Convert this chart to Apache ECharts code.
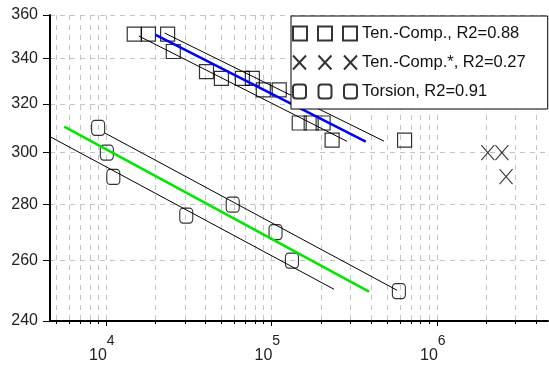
<!DOCTYPE html>
<html>
<head>
<meta charset="utf-8">
<script src="https://cdn.jsdelivr.net/npm/echarts@6/dist/echarts.min.js"></script>
<style>
  html, body { margin: 0; padding: 0; background: #fff; }
  #chart { width: 549px; height: 369px; }
</style>
</head>
<body>
<div id="chart"></div>
<script>
// cycles N (x, log) and stress S (y, log)
const tcN = [14850, 18100, 23630, 25570, 40590, 49970, 66880, 76830, 89480, 111700, 147500, 174200, 205700, 233100, 638800];
const tcS = [351, 351, 351, 343, 334, 331, 331, 331, 326, 326, 312, 312, 312, 305, 305];
const tcStarN = [2034000, 2474000, 2622000];
const tcStarS = [300, 300, 290.6];
const torN = [8987, 10140, 11100, 30630, 58470, 106100, 133300, 590300];
const torS = [310, 300, 290.5, 276, 280, 270, 260, 249.7];

// regression lines (two end points each)
const tcFitN = [20010, 372100], tcFitS = [350.6, 304.4];
const tcUpN = [22670, 479400], tcUpS = [351.5, 304.6];
const tcLoN = [15830, 287000], tcLoS = [350.1, 304.5];
const torFitN = [5608, 389500], torFitS = [310.5, 249.5];
const torUpN = [9862, 574100], torUpS = [307.9, 250.0];
const torLoN = [4600, 239600], torLoS = [306.4, 250.3];

const names = ['Ten.-Comp., R2=0.88', 'Ten.-Comp.*, R2=0.27', 'Torsion, R2=0.91'];
const yTicks = [240, 260, 280, 300, 320, 340, 360];
const xLabels = [1e4, 1e5, 1e6];
const xTicks = [5e3, 6e3, 7e3, 8e3, 9e3,
  1e4, 2e4, 3e4, 4e4, 5e4, 6e4, 7e4, 8e4, 9e4,
  1e5, 2e5, 3e5, 4e5, 5e5, 6e5, 7e5, 8e5, 9e5,
  1e6, 2e6, 3e6, 4e6];

const zip = (a, b) => a.map((v, i) => [v, b[i]]);

// legend icons: three markers side by side
function roundRect(x) {
  return 'M' + (x + 3) + ' 0H' + (x + 10) + 'A3 3 0 0 1 ' + (x + 13) + ' 3V11A3 3 0 0 1 ' + (x + 10) + ' 14H' + (x + 3) +
    'A3 3 0 0 1 ' + x + ' 11V3A3 3 0 0 1 ' + (x + 3) + ' 0Z';
}
const iconSquares = 'path://M0 0H14V14H0ZM25 0H39V14H25ZM50 0H64V14H50Z';
const iconCrosses = 'path://M0 0L13 14M13 0L0 14M25.5 0L38.5 14M38.5 0L25.5 14M51 0L64 14M64 0L51 14';
const iconCircles = 'path://' + roundRect(0) + roundRect(25.5) + roundRect(51);

const chart = echarts.init(document.getElementById('chart'), null, { renderer: 'canvas' });

const gridLine = { show: true, lineStyle: { color: '#c4c4c4', type: [5, 5], width: 1 } };
const hollow = { color: 'rgba(0,0,0,0)', borderColor: '#000', borderWidth: 1.2 };
const thin = { color: '#000', width: 1 };

function line(n, s, style, z) {
  return {
    type: 'line', data: zip(n, s), showSymbol: false, symbol: 'none',
    lineStyle: style, silent: true, z: z, clip: true
  };
}

const option = {
  animation: false,
  grid: { left: 50, right: 1, top: 15, bottom: 48 },
  xAxis: [{
    type: 'log', min: 4600, max: 4.7e6,
    axisLine: { show: true, lineStyle: { color: '#000', width: 2 } },
    axisTick: { show: true, customValues: xTicks, length: 3, lineStyle: { color: '#000' } },
    splitLine: gridLine,
    axisLabel: {
      customValues: xLabels, margin: 13, color: '#222',
      fontFamily: 'Liberation Sans',
      formatter: v => '{b|10}{s|' + Math.round(Math.log10(v)) + '}',
      rich: {
        b: { fontSize: 16, fontFamily: 'Liberation Sans', color: '#222', lineHeight: 30, verticalAlign: 'bottom' },
        s: { fontSize: 14, fontFamily: 'Liberation Sans', color: '#222', lineHeight: 14, verticalAlign: 'top', padding: [0, 8, 0, 0] }
      }
    }
  }, {
    type: 'log', min: 4600, max: 4.7e6, position: 'bottom',
    axisLine: { show: false },
    axisTick: { show: true, customValues: xLabels, length: 5, lineStyle: { color: '#000' } },
    axisLabel: { show: false },
    splitLine: { show: false }
  }],
  yAxis: {
    type: 'log', min: 240, max: 360,
    axisLine: { show: true, lineStyle: { color: '#000', width: 2 } },
    axisTick: { show: true, customValues: yTicks, length: 7, lineStyle: { color: '#000' } },
    splitLine: gridLine,
    axisLabel: {
      customValues: yTicks, margin: 12, color: '#222',
      fontSize: 16, fontFamily: 'Liberation Sans',
      formatter: v => String(Math.round(v))
    }
  },
  legend: {
    orient: 'vertical', left: 291, top: 16,
    backgroundColor: '#fff', borderColor: '#000', borderWidth: 1, borderRadius: 0,
    padding: [9, 22, 9, 1], itemGap: 12,
    itemWidth: 64, itemHeight: 14,
    textStyle: { fontSize: 16.5, fontFamily: 'Liberation Sans', color: '#111' },
    data: [
      { name: names[0], icon: iconSquares },
      { name: names[1], icon: iconCrosses },
      { name: names[2], icon: iconCircles }
    ]
  },
  series: [
    line(tcUpN, tcUpS, thin, 3),
    line(tcLoN, tcLoS, thin, 3),
    line(tcFitN, tcFitS, { color: '#0000ff', width: 2.5 }, 3),
    line(torUpN, torUpS, thin, 3),
    line(torLoN, torLoS, thin, 3),
    line(torFitN, torFitS, { color: '#00e600', width: 2.5 }, 3),
    {
      name: names[0], type: 'scatter', data: zip(tcN, tcS),
      symbol: 'rect', symbolSize: 14, itemStyle: hollow, z: 2
    },
    {
      name: names[1], type: 'scatter', data: zip(tcStarN, tcStarS),
      symbol: 'path://M0 0L13 15M13 0L0 15', symbolSize: [13, 15], itemStyle: hollow, z: 2
    },
    {
      name: names[2], type: 'scatter', data: zip(torN, torS),
      symbol: 'roundRect', symbolSize: [13, 15], itemStyle: hollow, z: 2
    }
  ]
};

window.addEventListener('resize', function () {
  chart.resize();
});

option && chart.setOption(option);
</script>
</body>
</html>
